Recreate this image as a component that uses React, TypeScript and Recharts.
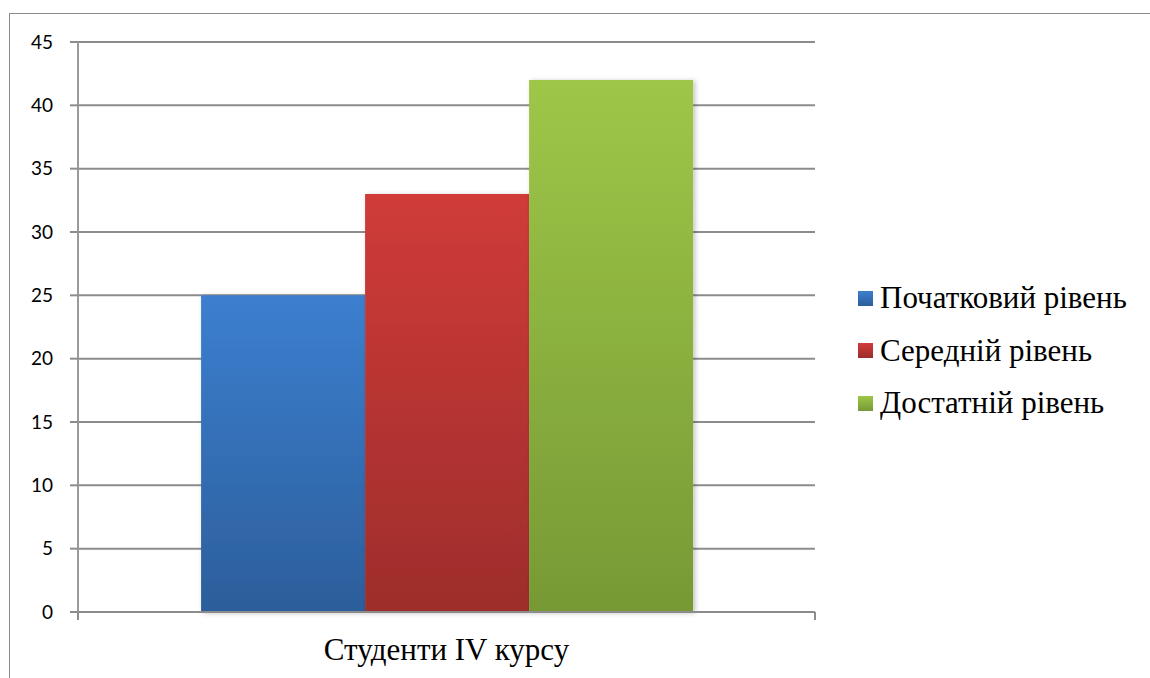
import { Bar, BarChart, CartesianGrid, XAxis, YAxis } from 'recharts'

const categories = ['Студенти IV курсу']
const seriesNames = ['Початковий рівень', 'Середній рівень', 'Достатній рівень']
const seriesValues = [25, 33, 42]
const yTicks = [0, 5, 10, 15, 20, 25, 30, 35, 40, 45]

const seriesKeys = ['s0', 's1', 's2']
const gradients = [
  { id: 'gBlue', top: '#3c7fcf', bottom: '#2c5e9b' },
  { id: 'gRed', top: '#d03b39', bottom: '#9d2d2b' },
  { id: 'gGreen', top: '#9ec748', bottom: '#779935' },
]

const data = categories.map((name) => {
  const row: Record<string, string | number> = { name }
  seriesKeys.forEach((k, i) => {
    row[k] = seriesValues[i]
  })
  return row
})

const GRID = '#8c8c8c'
const SERIF = 'Liberation Serif, Tinos, DejaVu Serif, Times New Roman, serif'
const SANS = 'Lato, "Open Sans", sans-serif'

function CategoryTick(props: {
  x?: number
  y?: number
  width?: number
  payload?: { value?: unknown; offset?: number }
}) {
  const x = typeof props.x === 'number' ? props.x : 0
  const y = typeof props.y === 'number' ? props.y : 0
  const half =
    typeof props.payload?.offset === 'number' && props.payload.offset > 0
      ? props.payload.offset
      : (props.width ?? 0) / 2
  return (
    <g>
      <line x1={x - half} x2={x - half} y1={y} y2={y + 8} stroke={GRID} strokeWidth={2} />
      <line x1={x + half} x2={x + half} y1={y} y2={y + 8} stroke={GRID} strokeWidth={2} />
      <text x={x} y={y} dy={48} textAnchor="middle" fill="#000" fontSize={31} style={{ fontFamily: SERIF }}>
        {String(props.payload?.value ?? '')}
      </text>
    </g>
  )
}

export default function App() {
  return (
    <div
      style={{
        position: 'absolute',
        left: 0,
        top: 0,
        width: 1150,
        height: 678,
        overflow: 'hidden',
        background: '#fff',
      }}
    >
      <div
        style={{
          position: 'absolute',
          left: 9,
          top: 13,
          width: 1200,
          height: 700,
          borderLeft: '1px solid #8c8c8c',
          borderTop: '1px solid #8c8c8c',
        }}
      />
      <div style={{ position: 'absolute', left: 0, top: 0 }}>
        <BarChart
          width={1150}
          height={678}
          data={data}
          margin={{ top: 42, right: 335, bottom: 0, left: 0 }}
          barCategoryGap="16.7%"
          barGap={0}
        >
          <defs>
            {gradients.map((g) => (
              <linearGradient key={g.id} id={g.id} x1="0" y1="0" x2="0" y2="1">
                <stop offset="0%" stopColor={g.top} />
                <stop offset="100%" stopColor={g.bottom} />
              </linearGradient>
            ))}
            <filter id="barShadow" x="-10%" y="-10%" width="125%" height="125%">
              <feDropShadow dx="2" dy="1" stdDeviation="2.5" floodColor="#000" floodOpacity="0.25" />
            </filter>
          </defs>
          <CartesianGrid horizontal vertical={false} stroke={GRID} strokeWidth={2} />
          <XAxis
            dataKey="name"
            height={66}
            axisLine={{ stroke: GRID, strokeWidth: 2 }}
            tickLine={false}
            tickSize={0}
            tickMargin={0}
            tick={<CategoryTick />}
            interval={0}
          />
          <YAxis
            domain={[0, 45]}
            ticks={yTicks}
            width={78}
            axisLine={{ stroke: '#9a9a9a', strokeWidth: 2 }}
            tickLine={{ stroke: GRID, strokeWidth: 2 }}
            tickSize={8}
            tickMargin={17}
            tick={{ fill: '#000', fontSize: 19, fontFamily: SANS }}
          />
          {seriesKeys.map((k, i) => (
            <Bar
              key={k}
              dataKey={k}
              name={seriesNames[i]}
              fill={`url(#${gradients[i].id})`}
              filter="url(#barShadow)"
              isAnimationActive={false}
            />
          ))}
        </BarChart>
      </div>
      <div style={{ position: 'absolute', left: 858, top: 272 }}>
        {seriesNames.map((n, i) => (
          <div
            key={n}
            style={{
              display: 'flex',
              alignItems: 'center',
              height: 52.5,
              fontFamily: SERIF,
              fontSize: 31,
              color: '#000',
              whiteSpace: 'nowrap',
            }}
          >
            <span
              style={{
                display: 'inline-block',
                width: 15,
                height: 15,
                marginRight: 7,
                background: `linear-gradient(${gradients[i].top}, ${gradients[i].bottom})`,
              }}
            />
            {n}
          </div>
        ))}
      </div>
    </div>
  )
}
